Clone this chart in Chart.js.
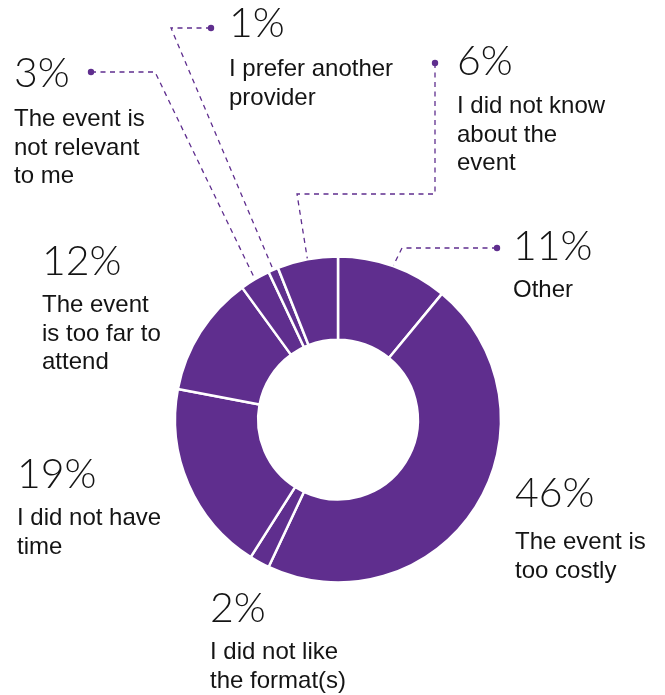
<!DOCTYPE html>
<html>
<head>
<meta charset="utf-8">
<script src="https://cdn.jsdelivr.net/npm/chart.js@4/dist/chart.umd.min.js"></script>
<style>
  html, body { margin: 0; padding: 0; background: #ffffff; }
  #wrap { width: 665px; height: 695px; position: relative; }
</style>
</head>
<body>
<div id="wrap"><canvas id="chart" width="665" height="695"></canvas></div>
<script>
// Reasons for not attending, clockwise from 12 o'clock
const categories = [
  ['Other'],
  ['The event is', 'too costly'],
  ['I did not like', 'the format(s)'],
  ['I did not have', 'time'],
  ['The event', 'is too far to', 'attend'],
  ['The event is', 'not relevant', 'to me'],
  ['I prefer another', 'provider'],
  ['I did not know', 'about the', 'event']
];
const shares = [11, 46, 2, 19, 12, 3, 1, 6];

const PURPLE = '#5f2e8e';
const INK = '#141414';

// Where each callout sits: left edge, baseline of the percentage,
// baseline of the first description line, and the leader route
// (dot first, then elbows; the final point is taken from the arc itself).
const callouts = [
  { x: 513, pctY: 260, textY: 297, route: [[497, 248], [402, 248]] },
  { x: 515, pctY: 507, textY: 549 },
  { x: 210, pctY: 622, textY: 659 },
  { x: 17,  pctY: 488, textY: 525 },
  { x: 42,  pctY: 275, textY: 312 },
  { x: 14,  pctY: 87,  textY: 126, route: [[91, 72], [155, 72]] },
  { x: 229, pctY: 37,  textY: 76,  route: [[211, 28], [171, 28]] },
  { x: 457, pctY: 75,  textY: 113, route: [[435, 63], [435, 194], [297, 194]] }
];
const LINE_PITCH = 28.5;

const calloutPlugin = {
  id: 'callouts',
  afterDatasetsDraw(chart) {
    const ctx = chart.ctx;
    const meta = chart.getDatasetMeta(0);
    ctx.save();
    meta.data.forEach((arc, i) => {
      const c = callouts[i];
      const p = arc.getProps(['x', 'y', 'startAngle', 'endAngle', 'outerRadius'], true);
      if (c.route) {
        const mid = (p.startAngle + p.endAngle) / 2;
        const r = p.outerRadius + 1;
        const end = [p.x + Math.cos(mid) * r, p.y + Math.sin(mid) * r];
        const pts = c.route.concat([end]);
        ctx.strokeStyle = PURPLE;
        ctx.lineWidth = 1.3;
        ctx.setLineDash([5, 4.5]);
        ctx.beginPath();
        ctx.moveTo(pts[0][0], pts[0][1]);
        for (let k = 1; k < pts.length; k++) ctx.lineTo(pts[k][0], pts[k][1]);
        ctx.stroke();
        ctx.setLineDash([]);
        ctx.fillStyle = PURPLE;
        ctx.beginPath();
        ctx.arc(pts[0][0], pts[0][1], 3.2, 0, Math.PI * 2);
        ctx.fill();
      }
      ctx.fillStyle = INK;
      ctx.textAlign = 'left';
      ctx.textBaseline = 'alphabetic';
      ctx.font = '300 41px Lato, "Open Sans", "Liberation Sans", sans-serif';
      ctx.fillText(shares[i] + '%', c.x, c.pctY);
      ctx.font = '24px "Liberation Sans", Arial, sans-serif';
      chart.data.labels[i].forEach((line, k) => {
        ctx.fillText(line, c.x, c.textY + k * LINE_PITCH);
      });
    });
    ctx.restore();
  }
};

new Chart(document.getElementById('chart'), {
  type: 'doughnut',
  data: {
    labels: categories,
    datasets: [{
      data: shares,
      backgroundColor: PURPLE,
      borderColor: '#ffffff',
      borderWidth: 2.5,
      hoverOffset: 0
    }]
  },
  options: {
    responsive: false,
    devicePixelRatio: 1,
    animation: false,
    radius: 163,
    cutout: '49%',
    layout: { padding: { left: 176, right: 165, top: 257, bottom: 113 } },
    plugins: {
      legend: { display: false },
      tooltip: { enabled: false }
    },
    events: []
  },
  plugins: [calloutPlugin]
});
</script>
</body>
</html>
